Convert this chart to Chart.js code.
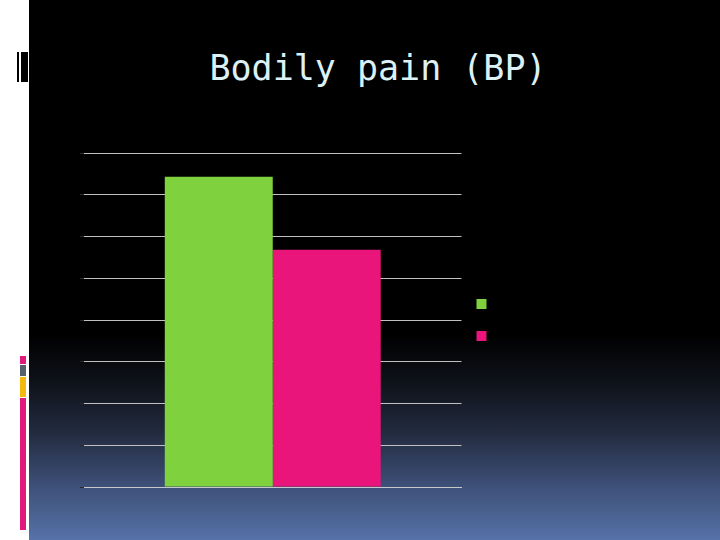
<!DOCTYPE html>
<html>
<head>
<meta charset="utf-8">
<script src="https://cdn.jsdelivr.net/npm/chart.js@4.4.1/dist/chart.umd.min.js"></script>
<style>
  html, body { margin: 0; padding: 0; }
  body {
    width: 720px; height: 540px; position: relative; overflow: hidden;
    background: linear-gradient(to bottom, #000 0%, #000 62%, #0d1017 70%, #222a3e 80%, #3d5078 90%, #5672a8 100%);
  }
  .strip { position: absolute; left: 0; top: 0; width: 29px; height: 540px; background: #fff; }
  .mark { position: absolute; left: 17px; top: 52px; width: 11px; height: 30px; background: #000; }
  .mark::before { content: ""; position: absolute; left: 2px; top: 0; width: 2px; height: 30px; background: #fff; }
  .band { position: absolute; left: 20px; width: 6px; }
  #title {
    position: absolute; left: 0; top: 47px; width: 756px; text-align: center;
    font: 35px/42px "DejaVu Sans Mono", monospace; color: #dcf1f6; white-space: nowrap;
  }
  #wrap { position: absolute; left: 0; top: 0; width: 720px; height: 540px; }
</style>
</head>
<body>
<div class="strip"></div>
<div class="mark"></div>
<div class="band" style="top:356px;height:8px;background:#e0197a"></div>
<div class="band" style="top:365px;height:11px;background:#56606a"></div>
<div class="band" style="top:377px;height:20px;background:#f5b80f"></div>
<div class="band" style="top:398px;height:132px;background:#e0197a"></div>
<div id="title">Bodily pain (BP)</div>
<div id="wrap"><canvas id="bp" width="720" height="540"></canvas></div>
<script>
// chart values
const categories = ["Bodily pain (BP)"];
const seriesNames = ["Group 1", "Group 2"];
const group1 = [74.3];
const group2 = [56.8];
const yMin = 0;
const yMax = 80;
const yStep = 10;

const ctx = document.getElementById("bp").getContext("2d");
new Chart(ctx, {
  type: "bar",
  data: {
    labels: categories,
    datasets: [
      { label: seriesNames[0], data: group1, backgroundColor: "#80d13e", borderWidth: 0 },
      { label: seriesNames[1], data: group2, backgroundColor: "#ea157a", borderWidth: 0 },
    ],
  },
  options: {
    responsive: false,
    animation: false,
    devicePixelRatio: 1,
    layout: { padding: { left: 80, right: 215, top: 153, bottom: 45 } },
    datasets: { bar: { barPercentage: 1, categoryPercentage: 0.572 } },
    plugins: {
      title: { display: false },
      legend: {
        position: "right",
        fullSize: false,
        labels: {
          boxWidth: 10,
          boxHeight: 10,
          padding: 15,
          font: { size: 17 },
          color: "#000",
          generateLabels: (chart) =>
            Chart.defaults.plugins.legend.labels.generateLabels(chart).map((l) => ({ ...l, text: "", lineWidth: 0 })),
        },
      },
      tooltip: { enabled: false },
    },
    scales: {
      x: {
        grid: { display: false },
        ticks: { display: false },
        border: { display: true, color: "#c8c8c8", width: 1 },
      },
      y: {
        min: yMin,
        max: yMax,
        ticks: { display: false, stepSize: yStep },
        grid: { color: "#c0c0c0", lineWidth: 1, tickLength: 4, tickColor: "#2a2a2a" },
        border: { display: false },
      },
    },
  },
});
</script>
</body>
</html>
